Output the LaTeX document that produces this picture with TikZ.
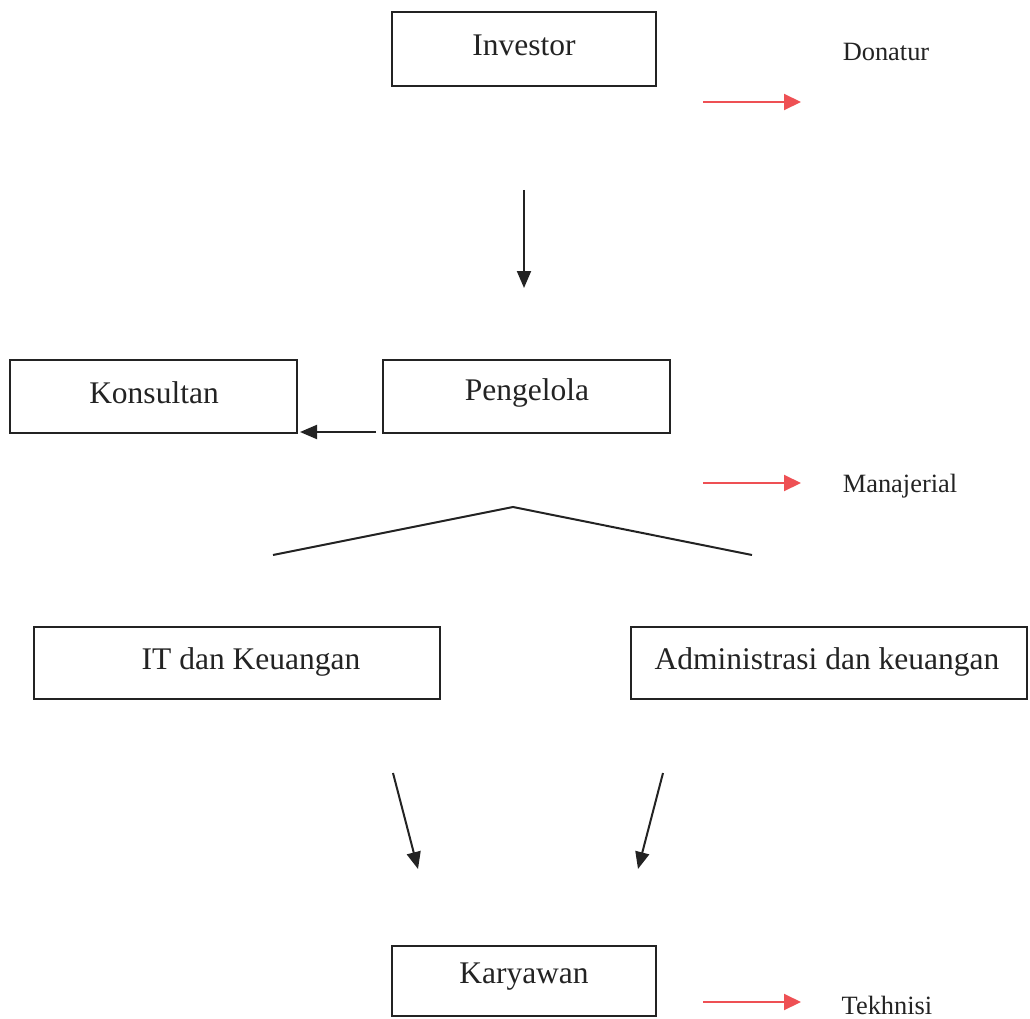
\documentclass[tikz,border=0pt]{standalone}
\usepackage{fontspec}
\setmainfont{Liberation Serif}
\usetikzlibrary{arrows.meta}
\definecolor{ink}{RGB}{35,35,35}
\definecolor{redarrow}{RGB}{238,80,84}
\tikzset{
  box/.style={draw=ink, line width=1.5pt, inner sep=0pt},
  boxtxt/.style={inner sep=0pt, font=\fontsize{31.5}{36}\selectfont, text=ink},
  lbl/.style={inner sep=0pt, font=\fontsize{26.4}{30}\selectfont, text=ink},
  blackarrow/.style={draw=ink, line width=2pt, -{Triangle[length=17pt,width=14pt]}},
  redarr/.style={draw=redarrow, line width=2pt, -{Triangle[length=17pt,width=16pt]}},
  plainline/.style={draw=ink, line width=2pt}
}
\begin{document}
\begin{tikzpicture}[x=1pt,y=-1pt]
\useasboundingbox (0,0) rectangle (1030,1019);
% boxes
\node[box, minimum width=264pt, minimum height=74pt] (investor) at (524,49) {};
\node[boxtxt] (investortxt) at (524,45) {Investor};
\node[box, minimum width=287pt, minimum height=73pt] (konsultan) at (153.5,396.5) {};
\node[boxtxt] (konsultantxt) at (154,393) {Konsultan};
\node[box, minimum width=287pt, minimum height=73pt] (pengelola) at (526.5,396.5) {};
\node[boxtxt] (pengelolatxt) at (527,393) {Pengelola};
\node[box, minimum width=406pt, minimum height=72pt] (it) at (237,663) {};
\node[boxtxt] (ittxt) at (251,662) {IT dan Keuangan};
\node[box, minimum width=396pt, minimum height=72pt] (admin) at (829,663) {};
\node[boxtxt] (admintxt) at (827,662) {Administrasi dan keuangan};
\node[box, minimum width=264pt, minimum height=70pt] (karyawan) at (524,981) {};
\node[boxtxt] (karyawantxt) at (524,977) {Karyawan};
% labels
\node[lbl] (donatur) at (886,52) {Donatur};
\node[lbl] (manajerial) at (900,486) {Manajerial};
\node[lbl] (tekhnisi) at (887,1005) {Tekhnisi};
% coordinates
\coordinate (a1s) at (524,190);
\coordinate (a1e) at (524,288);
\coordinate (a2s) at (376,432);
\coordinate (a2e) at (300,432);
\coordinate (r1s) at (703,102);
\coordinate (r1e) at (801,102);
\coordinate (r2s) at (703,483);
\coordinate (r2e) at (801,483);
\coordinate (r3s) at (703,1002);
\coordinate (r3e) at (801,1002);
\coordinate (cl) at (273,555);
\coordinate (ct) at (513,507);
\coordinate (cr) at (752,555);
\coordinate (d1s) at (393,773);
\coordinate (d1e) at (418,869);
\coordinate (d2s) at (663,773);
\coordinate (d2e) at (638,869);
% connectors
\draw[blackarrow] (a1s) -- (a1e);
\draw[blackarrow] (a2s) -- (a2e);
\draw[redarr] (r1s) -- (r1e);
\draw[redarr] (r2s) -- (r2e);
\draw[redarr] (r3s) -- (r3e);
\draw[plainline] (cl) -- (ct) -- (cr);
\draw[blackarrow] (d1s) -- (d1e);
\draw[blackarrow] (d2s) -- (d2e);
\end{tikzpicture}
\end{document}
